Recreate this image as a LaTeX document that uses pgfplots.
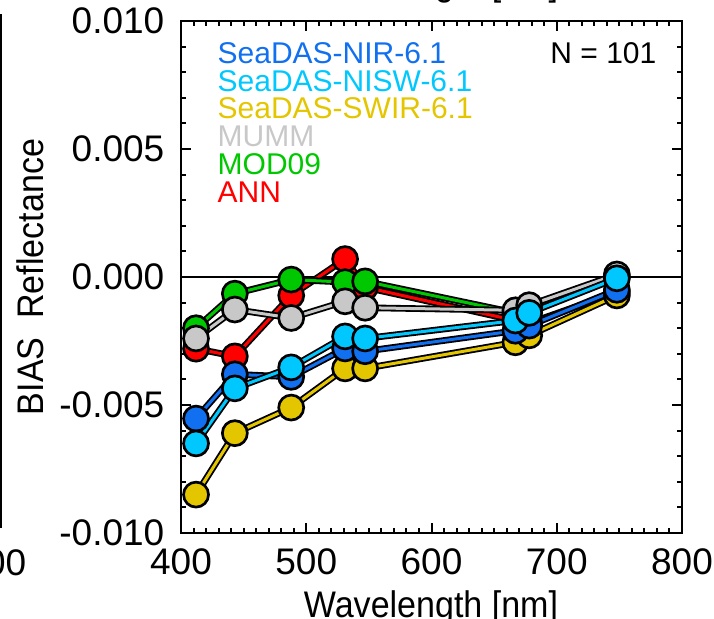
\documentclass[border=0pt]{standalone}
\usepackage{fontspec}
\setmainfont{Liberation Sans}
\newfontfamily\narrowfont[FakeStretch=0.92]{Liberation Sans}
\usepackage{pgfplots}
\pgfplotsset{compat=1.18}

\definecolor{cnir}{RGB}{16,112,240}
\definecolor{cnisw}{RGB}{0,200,255}
\definecolor{cswir}{RGB}{228,198,0}
\definecolor{cmumm}{RGB}{200,200,200}
\definecolor{cmod}{RGB}{0,200,0}
\definecolor{cann}{RGB}{255,0,0}

\newcommand{\ticksize}{\fontsize{11.1}{13}\selectfont}
\newcommand{\legsize}{\fontsize{9}{11}\selectfont}

\pgfplotsset{
  series/.style={color=#1, line width=0.9pt, mark=*, mark size=3.75pt,
    mark options={fill=#1, draw=black, line width=0.8pt, solid}},
  outline/.style={black, line width=2pt, forget plot, mark=none},
}

\begin{document}
\begin{tikzpicture}
\useasboundingbox (0,0) rectangle (214.2pt,185.4pt);
\clip (0,0) rectangle (214.2pt,185.4pt);

\begin{axis}[
    at={(54.3pt,25.5pt)}, anchor=south west,
    scale only axis, width=150.3pt, height=153.6pt,
    xmin=400, xmax=800, ymin=-0.01, ymax=0.01,
    xtick={400,500,...,800}, minor x tick num=9,
    ytick={-0.01,-0.005,0,0.005,0.01}, minor y tick num=4,
    tick align=inside, major tick length=3pt, minor tick length=1.5pt,
    axis line style={line width=0.6pt}, every tick/.style={black, line width=0.6pt},
    scaled y ticks=false,
    /pgf/number format/assume math mode=true,
    yticklabel style={/pgf/number format/.cd, fixed, fixed zerofill, precision=3, /tikz/.cd,
      font=\ticksize, inner sep=0pt, xshift=-4.8pt},
    xticklabel style={font=\ticksize, inner sep=0pt, yshift=-4.5pt},
    clip=false,
]
\addplot[black, line width=0.6pt, forget plot] coordinates {(400,0) (800,0)};

% ANN
\addplot[outline] coordinates {(412,-0.0028) (443,-0.0031) (488,-0.00072) (531,0.0007) (547,-0.0004) (667,-0.0017) (678,-0.0018) (748,-0.0006)};
\addplot[series=cann] coordinates {(412,-0.0028) (443,-0.0031) (488,-0.00072) (531,0.0007) (547,-0.0004) (667,-0.0017) (678,-0.0018) (748,-0.0006)};
% MOD09
\addplot[outline] coordinates {(412,-0.0020) (443,-0.00065) (488,-0.0001) (531,-0.0002) (547,-0.00017) (667,-0.0014) (678,-0.0012) (748,0.0000)};
\addplot[series=cmod] coordinates {(412,-0.0020) (443,-0.00065) (488,-0.0001) (531,-0.0002) (547,-0.00017) (667,-0.0014) (678,-0.0012) (748,0.0000)};
% MUMM
\addplot[outline] coordinates {(412,-0.0024) (443,-0.00127) (488,-0.0016) (531,-0.00095) (547,-0.0012) (667,-0.0013) (678,-0.0011) (748,0.0001)};
\addplot[series=cmumm] coordinates {(412,-0.0024) (443,-0.00127) (488,-0.0016) (531,-0.00095) (547,-0.0012) (667,-0.0013) (678,-0.0011) (748,0.0001)};
% SeaDAS-SWIR
\addplot[outline] coordinates {(412,-0.0085) (443,-0.0061) (488,-0.0051) (531,-0.00357) (547,-0.00357) (667,-0.00255) (678,-0.00228) (748,-0.00072)};
\addplot[series=cswir] coordinates {(412,-0.0085) (443,-0.0061) (488,-0.0051) (531,-0.00357) (547,-0.00357) (667,-0.00255) (678,-0.00228) (748,-0.00072)};
% SeaDAS-NIR
\addplot[outline] coordinates {(412,-0.00553) (443,-0.0038) (488,-0.0039) (531,-0.00279) (547,-0.0029) (667,-0.0021) (678,-0.0019) (748,-0.0005)};
\addplot[series=cnir] coordinates {(412,-0.00553) (443,-0.0038) (488,-0.0039) (531,-0.00279) (547,-0.0029) (667,-0.0021) (678,-0.0019) (748,-0.0005)};
% SeaDAS-NISW
\addplot[outline] coordinates {(412,-0.0065) (443,-0.00435) (488,-0.00353) (531,-0.00232) (547,-0.0024) (667,-0.0017) (678,-0.0014) (748,-0.00005)};
\addplot[series=cnisw] coordinates {(412,-0.0065) (443,-0.00435) (488,-0.00353) (531,-0.00232) (547,-0.0024) (667,-0.0017) (678,-0.0014) (748,-0.00005)};
\end{axis}

\begin{scope}[x=0.3pt,y=0.3pt]
% fragments of the neighbouring panels
\draw[line width=0.6pt] (1,90) -- (1,604);
\node[anchor=base east, inner sep=0pt, font=\ticksize] at (27,43) {800};
\node[anchor=base, inner sep=0pt, font=\narrowfont\ticksize] at (431,622) {Wavelength [nm]};

% axis titles
\node[anchor=base, inner sep=0pt, font=\narrowfont\ticksize] at (431,1) {Wavelength [nm]};
\node[rotate=90, inner sep=0pt, font=\narrowfont\ticksize] at (30,341) {BIAS~~Reflectance};

% legend as coloured text
\begin{scope}[every node/.style={anchor=base west, inner sep=0pt, font=\legsize}]
\node[text=cnir]  at (217,554) {SeaDAS-NIR-6.1};
\node[text=cnisw] at (217,526) {SeaDAS-NISW-6.1};
\node[text=cswir] at (217,499) {SeaDAS-SWIR-6.1};
\node[text=cmumm] at (217,471) {MUMM};
\node[text=cmod]  at (217,443) {MOD09};
\node[text=cann]  at (217,415) {ANN};
\end{scope}
\node[anchor=base east, inner sep=0pt, font=\legsize] at (657,554) {N = 101};
\end{scope}
\end{tikzpicture}
\end{document}
